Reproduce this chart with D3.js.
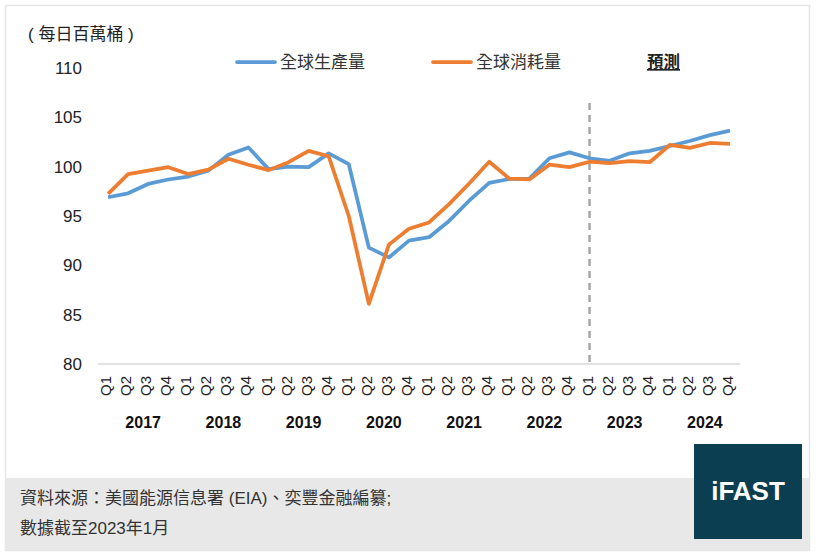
<!DOCTYPE html>
<html>
<head>
<meta charset="utf-8">
<script src="https://cdn.jsdelivr.net/npm/d3@7"></script>
<style>
  body { margin: 0; background: #fff; }
  svg { font-family: "Liberation Sans", Arial, "Noto Sans CJK TC", sans-serif; }
</style>
</head>
<body>
<svg id="chart" width="817" height="560"></svg>
<script>
// data (million barrels per day)
var years = ["2017", "2018", "2019", "2020", "2021", "2022", "2023", "2024"];
var quarters = ["Q1", "Q2", "Q3", "Q4"];
var production = [96.9, 97.3, 98.25, 98.7, 99.0, 99.6, 101.2, 101.95,
                  99.75, 100.0, 99.95, 101.35, 100.25, 91.8, 90.8, 92.5,
                  92.85, 94.5, 96.55, 98.35, 98.75, 98.8, 100.85, 101.45,
                  100.85, 100.6, 101.35, 101.6, 102.1, 102.6, 103.2, 103.65];
var consumption = [97.25, 99.25, 99.6, 99.95, 99.25, 99.7, 100.8, 100.2,
                   99.65, 100.45, 101.6, 101.05, 95.0, 86.1, 92.1, 93.7,
                   94.35, 96.2, 98.3, 100.5, 98.8, 98.7, 100.2, 99.95,
                   100.5, 100.35, 100.55, 100.45, 102.2, 101.9, 102.4, 102.3];
var yTicks = [80, 85, 90, 95, 100, 105, 110];
var forecastStart = "2023Q1";

var cats = [];
years.forEach(function (y) {
    quarters.forEach(function (q) { cats.push(y + q); });
});

var svg = d3.select("#chart");

// frame + footer
svg.append("rect").attr("x", 5.5).attr("y", 5.5).attr("width", 804).attr("height", 545)
    .attr("fill", "#fff").attr("stroke", "#e6e6e6").attr("stroke-width", 1.5);
svg.append("rect").attr("x", 5).attr("y", 478).attr("width", 805).attr("height", 72)
    .attr("fill", "#e8e8e8");

var x = d3.scaleBand().domain(cats).range([98, 740]);
var y = d3.scaleLinear().domain([80, 110]).range([364, 68]);

// y axis labels
svg.append("g").selectAll("text").data(yTicks).enter().append("text")
    .attr("x", 82).attr("y", function (d) { return y(d) + 6; })
    .attr("text-anchor", "end").attr("font-size", 17).attr("fill", "#222")
    .text(function (d) { return d; });

// baseline
svg.append("line").attr("x1", 98).attr("x2", 740).attr("y1", y(80)).attr("y2", y(80))
    .attr("stroke", "#d9d9d9").attr("stroke-width", 1.5);

// quarter labels (rotated)
svg.append("g").selectAll("text").data(cats).enter().append("text")
    .attr("transform", function (d) {
        return "translate(" + (x(d) + x.bandwidth() / 2 + 3) + ",376) rotate(-90)";
    })
    .attr("text-anchor", "end").attr("font-size", 15).attr("fill", "#222")
    .text(function (d) { return d.slice(4); });

// year labels
svg.append("g").selectAll("text").data(years).enter().append("text")
    .attr("x", function (d) { return x(d + "Q2") + x.bandwidth() + 5; })
    .attr("y", 428)
    .attr("text-anchor", "middle").attr("font-size", 16).attr("font-weight", "bold")
    .attr("fill", "#111")
    .text(function (d) { return d; });

// forecast divider
var fx = x(forecastStart) + x.bandwidth() / 2;
svg.append("line").attr("x1", fx).attr("x2", fx).attr("y1", 103).attr("y2", y(80))
    .attr("stroke", "#a6a6a6").attr("stroke-width", 2.5).attr("stroke-dasharray", "7,5");

// lines
var line = d3.line()
    .x(function (d, i) { return x(cats[i]) + x.bandwidth() / 2; })
    .y(function (d) { return y(d); });

svg.append("path").datum(production).attr("d", line)
    .attr("fill", "none").attr("stroke", "#5b9bd5").attr("stroke-width", 3.75)
    .attr("stroke-linejoin", "round");
svg.append("path").datum(consumption).attr("d", line)
    .attr("fill", "none").attr("stroke", "#ed7d31").attr("stroke-width", 3.75)
    .attr("stroke-linejoin", "round");

// unit label
svg.append("text").attr("x", 28).attr("y", 40).attr("font-size", 17).attr("fill", "#222")
    .text("( 每日百萬桶 )");

// legend
var legend = [{ name: "全球生產量", color: "#5b9bd5", x: 237 },
              { name: "全球消耗量", color: "#ed7d31", x: 433 }];
legend.forEach(function (l) {
    svg.append("line").attr("x1", l.x).attr("x2", l.x + 38).attr("y1", 62).attr("y2", 62)
        .attr("stroke", l.color).attr("stroke-width", 3.75).attr("stroke-linecap", "round");
    svg.append("text").attr("x", l.x + 43).attr("y", 68).attr("font-size", 17).attr("fill", "#333")
        .text(l.name);
});
svg.append("text").attr("x", 647).attr("y", 68).attr("font-size", 16.5).attr("font-weight", "bold")
    .attr("fill", "#222").attr("text-decoration", "underline").text("預測");

// footer text
svg.append("text").attr("x", 20).attr("y", 504).attr("font-size", 17).attr("fill", "#333")
    .text("資料來源：美國能源信息署 (EIA)、奕豐金融編纂;");
svg.append("text").attr("x", 20).attr("y", 534).attr("font-size", 17).attr("fill", "#333")
    .text("數據截至2023年1月");

// logo
svg.append("rect").attr("x", 694).attr("y", 444).attr("width", 108).attr("height", 95)
    .attr("fill", "#0b3e50");
svg.append("text").attr("x", 748).attr("y", 500).attr("text-anchor", "middle")
    .attr("font-size", 26).attr("font-weight", "bold").attr("fill", "#fff").text("iFAST");
</script>
</body>
</html>
